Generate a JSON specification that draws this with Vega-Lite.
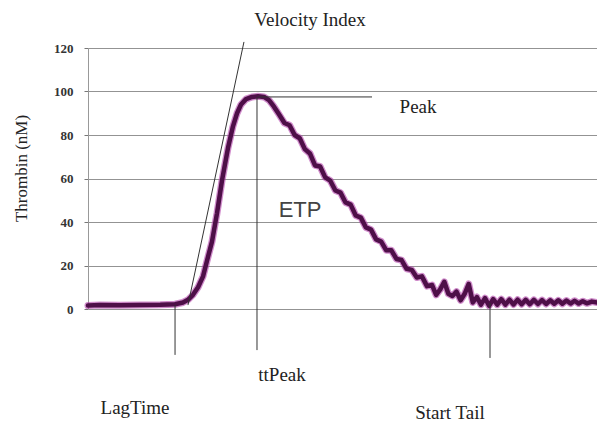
{
  "$schema": "https://vega.github.io/schema/vega-lite/v6.json",
  "width": 509,
  "height": 261,
  "autosize": {"type": "none"},
  "padding": {"left": 88, "top": 48, "right": 0, "bottom": 117},
  "background": "white",
  "config": {"view": {"stroke": null}},
  "datasets": {
    "curve": [
      {"t": 0, "v": 1.6}, {"t": 1.2, "v": 1.8}, {"t": 3.1, "v": 1.7}, {"t": 5.1, "v": 1.8},
      {"t": 7.1, "v": 1.9}, {"t": 8.55, "v": 2.2}, {"t": 9.33, "v": 3.0}, {"t": 9.82, "v": 4.2},
      {"t": 10.31, "v": 6.5}, {"t": 10.81, "v": 10}, {"t": 11.3, "v": 15}, {"t": 11.79, "v": 24},
      {"t": 12.18, "v": 31}, {"t": 12.67, "v": 44}, {"t": 13.16, "v": 59}, {"t": 13.75, "v": 74},
      {"t": 14.24, "v": 84}, {"t": 14.64, "v": 90}, {"t": 15.03, "v": 94}, {"t": 15.52, "v": 96.5},
      {"t": 16.11, "v": 97.5}, {"t": 16.7, "v": 97.8}, {"t": 17.29, "v": 97.5}, {"t": 17.78, "v": 96},
      {"t": 18.27, "v": 93}, {"t": 18.76, "v": 89.5}, {"t": 19.3, "v": 85.5}, {"t": 19.8, "v": 84.5},
      {"t": 20.3, "v": 80}, {"t": 20.8, "v": 78.5}, {"t": 21.3, "v": 73.5}, {"t": 21.8, "v": 71.5},
      {"t": 22.3, "v": 66}, {"t": 22.8, "v": 65.5}, {"t": 23.3, "v": 60.5}, {"t": 23.8, "v": 59},
      {"t": 24.3, "v": 54.5}, {"t": 24.8, "v": 53.5}, {"t": 25.3, "v": 49}, {"t": 25.8, "v": 48},
      {"t": 26.3, "v": 43}, {"t": 26.8, "v": 42}, {"t": 27.3, "v": 37.5}, {"t": 27.8, "v": 36.5},
      {"t": 28.3, "v": 32}, {"t": 28.8, "v": 31}, {"t": 29.3, "v": 27}, {"t": 29.8, "v": 27},
      {"t": 30.3, "v": 23}, {"t": 30.8, "v": 22.5}, {"t": 31.3, "v": 18.5}, {"t": 31.8, "v": 18},
      {"t": 32.3, "v": 14.5}, {"t": 32.8, "v": 15}, {"t": 33.3, "v": 10.5}, {"t": 33.8, "v": 11},
      {"t": 34.2, "v": 6.5}, {"t": 34.6, "v": 9}, {"t": 35.0, "v": 12.5}, {"t": 35.4, "v": 7},
      {"t": 35.8, "v": 6}, {"t": 36.2, "v": 8}, {"t": 36.6, "v": 4}, {"t": 37.0, "v": 7},
      {"t": 37.4, "v": 11.5}, {"t": 37.8, "v": 3}, {"t": 38.2, "v": 5.5}, {"t": 38.6, "v": 2},
      {"t": 39.0, "v": 5}, {"t": 39.4, "v": 1.5}, {"t": 39.8, "v": 4.5}, {"t": 40.2, "v": 2},
      {"t": 40.6, "v": 4.5}, {"t": 41.0, "v": 2}, {"t": 41.4, "v": 4.3}, {"t": 41.8, "v": 2.1},
      {"t": 42.2, "v": 4.3}, {"t": 42.6, "v": 2.2}, {"t": 43.0, "v": 4.2}, {"t": 43.4, "v": 2.2},
      {"t": 43.8, "v": 4.2}, {"t": 44.2, "v": 2.3}, {"t": 44.6, "v": 4.1}, {"t": 45.0, "v": 2.3},
      {"t": 45.4, "v": 4.0}, {"t": 45.8, "v": 2.4}, {"t": 46.2, "v": 4.0}, {"t": 46.6, "v": 2.4},
      {"t": 47.0, "v": 3.9}, {"t": 47.4, "v": 2.5}, {"t": 47.8, "v": 3.8}, {"t": 48.2, "v": 2.5},
      {"t": 48.6, "v": 3.6}, {"t": 49.0, "v": 2.6}, {"t": 49.5, "v": 3.4}, {"t": 50.0, "v": 3.0}
    ],
    "rules": [
      {"name": "velocity", "t": 9.82, "v": 1.8, "t2": 15.32, "v2": 122.8},
      {"name": "peak", "t": 16.7, "v": 97.5, "t2": 27.9, "v2": 97.5},
      {"name": "ttpeak", "t": 16.6, "v": 97.5, "t2": 16.6, "v2": -18.9},
      {"name": "lag", "t": 8.55, "v": 1.8, "t2": 8.55, "v2": -21.1},
      {"name": "tail", "t": 39.49, "v": 2.8, "t2": 39.49, "v2": -22.5}
    ],
    "labels": [
      {"text": "Velocity Index", "t": 21.81, "v": 132.9},
      {"text": "Peak", "t": 32.42, "v": 92.9},
      {"text": "ttPeak", "t": 19.06, "v": -30.3},
      {"text": "LagTime", "t": 4.62, "v": -45.5},
      {"text": "Start Tail", "t": 35.56, "v": -47.8}
    ],
    "etp": [{"text": "ETP", "t": 20.83, "v": 45.5}]
  },
  "layer": [
    {
      "data": {"name": "curve"},
      "mark": {"type": "line", "color": "#b040a8", "strokeWidth": 7, "opacity": 0.6, "strokeJoin": "round", "strokeCap": "round"},
      "encoding": {
        "x": {"field": "t", "type": "quantitative", "scale": {"domain": [0, 50], "nice": false, "zero": false}, "axis": null},
        "y": {
          "field": "v", "type": "quantitative",
          "scale": {"domain": [0, 120], "nice": false},
          "axis": {
            "title": "Thrombin (nM)",
            "values": [0, 20, 40, 60, 80, 100, 120],
            "grid": true, "gridColor": "#939393", "gridWidth": 1,
            "domain": true, "domainColor": "#999", "tickColor": "#777", "tickSize": 4,
            "labelFont": "Liberation Serif", "labelFontSize": 13, "labelFontWeight": "bold", "labelColor": "#333", "labelPadding": 11,
            "titleFont": "Liberation Serif", "titleFontSize": 17, "titleFontWeight": "normal", "titleColor": "#222",
            "titleX": -67, "titleY": 120, "titleAngle": 270, "titleAlign": "center", "titleBaseline": "middle"
          }
        }
      }
    },
    {
      "data": {"name": "curve"},
      "mark": {"type": "line", "color": "#4e0f48", "strokeWidth": 4.5, "strokeJoin": "round", "strokeCap": "round"},
      "encoding": {
        "x": {"field": "t", "type": "quantitative"},
        "y": {"field": "v", "type": "quantitative"}
      }
    },
    {
      "data": {"name": "rules"},
      "mark": {"type": "rule", "color": "#333", "strokeWidth": 1},
      "encoding": {
        "x": {"field": "t", "type": "quantitative"},
        "y": {"field": "v", "type": "quantitative"},
        "x2": {"field": "t2"},
        "y2": {"field": "v2"}
      }
    },
    {
      "data": {"name": "labels"},
      "mark": {"type": "text", "font": "Liberation Serif", "fontSize": 19, "color": "#222", "align": "center", "baseline": "middle"},
      "encoding": {
        "x": {"field": "t", "type": "quantitative"},
        "y": {"field": "v", "type": "quantitative"},
        "text": {"field": "text"}
      }
    },
    {
      "data": {"name": "etp"},
      "mark": {"type": "text", "font": "Liberation Sans", "fontSize": 22, "color": "#444", "align": "center", "baseline": "middle"},
      "encoding": {
        "x": {"field": "t", "type": "quantitative"},
        "y": {"field": "v", "type": "quantitative"},
        "text": {"field": "text"}
      }
    }
  ]
}
